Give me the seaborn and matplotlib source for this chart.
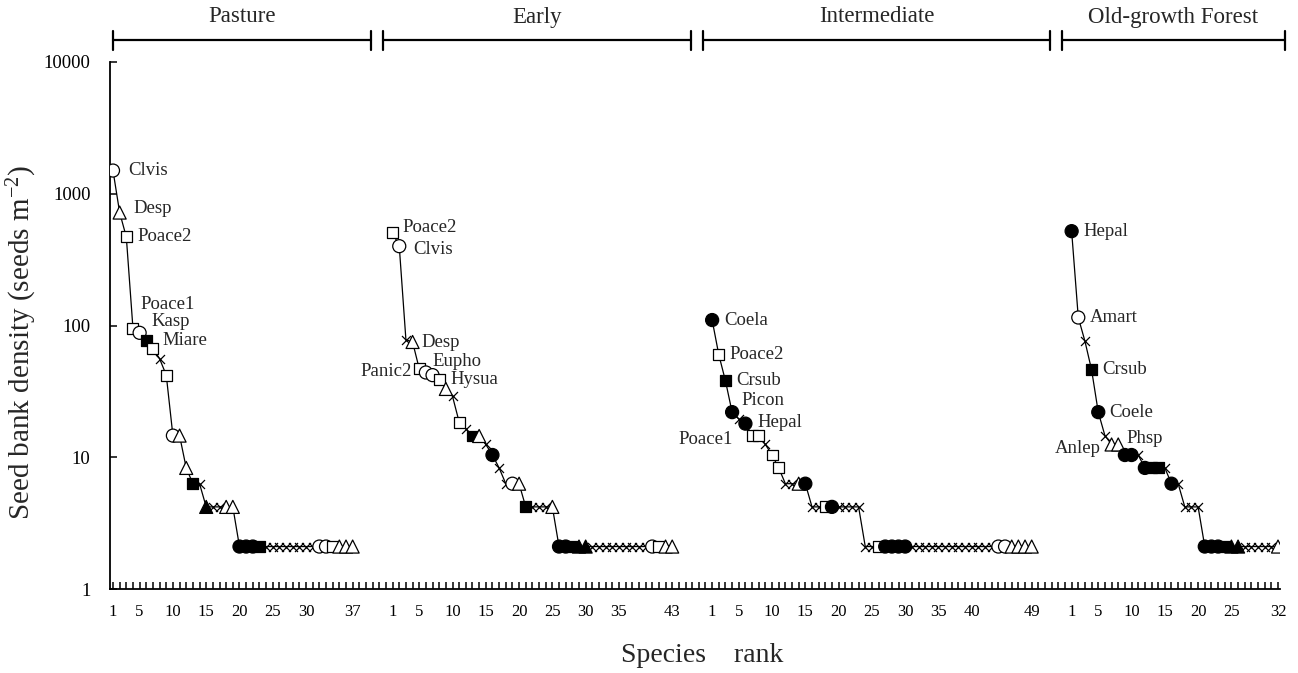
import numpy as np
import pandas as pd
import matplotlib
matplotlib.use("Agg")
import matplotlib.pyplot as plt
from matplotlib.ticker import LogLocator, NullFormatter, FixedLocator, FixedFormatter
import seaborn as sns

# ---------------------------------------------------------------- data
# Seed bank density (seeds m^-2) of each species, ranked within each stage.
# Marker codes: co/cf = open/filled circle, so/sf = square, to/tf = triangle, x = cross
stages = ["Pasture", "Early", "Intermediate", "Old-growth Forest"]

pasture_density = [1500, 720, 470, 95, 88, 77, 67, 56, 42, 14.6, 14.6, 8.3, 6.3, 6.3,
                   4.2, 4.2, 4.2, 4.2, 4.2, 2.1, 2.1, 2.1, 2.1, 2.1, 2.1, 2.1, 2.1,
                   2.1, 2.1, 2.1, 2.1, 2.1, 2.1, 2.1, 2.1, 2.1, 2.1]
pasture_marker = ["co", "to", "so", "so", "co", "sf", "so", "x", "so", "co", "to", "to",
                  "sf", "x", "tf", "x", "x", "to", "to", "cf", "cf", "cf", "sf",
                  "x", "x", "x", "x", "x", "x", "x", "x", "co", "co", "so", "to", "to", "to"]
pasture_names = {1: "Clvis", 2: "Desp", 3: "Poace2", 4: "Poace1", 5: "Kasp", 6: "Miare"}

early_density = [507, 400, 78, 75, 47, 44, 42, 39, 33, 29, 18.5, 16.5, 14.5, 14.5, 12.5,
                 10.4, 8.3, 6.3, 6.3, 6.3, 4.2, 4.2, 4.2, 4.2, 4.2, 2.1, 2.1, 2.1, 2.1,
                 2.1, 2.1, 2.1, 2.1, 2.1, 2.1, 2.1, 2.1, 2.1, 2.1, 2.1, 2.1, 2.1, 2.1]
early_marker = ["so", "co", "x", "to", "so", "co", "co", "so", "to", "x", "so", "x", "sf",
                "to", "x", "cf", "x", "x", "co", "to", "sf", "x", "x", "x", "to", "cf",
                "cf", "sf", "tf", "tf", "x", "x", "x", "x", "x", "x", "x", "x", "x",
                "co", "so", "to", "to"]
early_names = {1: "Poace2", 2: "Clvis", 4: "Desp", 5: "Panic2", 7: "Eupho", 8: "Hysua"}

inter_density = [110, 60, 38, 22, 19.5, 18, 14.6, 14.6, 12.5, 10.4, 8.3, 6.3, 6.3, 6.3,
                 6.3, 4.2, 4.2, 4.2, 4.2, 4.2, 4.2, 4.2, 4.2, 2.1, 2.1, 2.1, 2.1, 2.1,
                 2.1, 2.1, 2.1, 2.1, 2.1, 2.1, 2.1, 2.1, 2.1, 2.1, 2.1, 2.1, 2.1, 2.1,
                 2.1, 2.1, 2.1, 2.1, 2.1, 2.1, 2.1]
inter_marker = ["cf", "so", "sf", "cf", "x", "cf", "so", "so", "x", "so", "so", "x", "x",
                "to", "cf", "x", "x", "so", "cf", "x", "x", "x", "x", "x", "x", "so",
                "cf", "cf", "cf", "cf", "x", "x", "x", "x", "x", "x", "x", "x", "x",
                "x", "x", "x", "x", "co", "co", "to", "to", "to", "to"]
inter_names = {1: "Coela", 2: "Poace2", 3: "Crsub", 4: "Picon", 6: "Hepal", 7: "Poace1"}

old_density = [520, 115, 76, 46, 22, 14.6, 12.5, 12.5, 10.4, 10.4, 10.4, 8.3, 8.3, 8.3,
               8.3, 6.3, 6.3, 4.2, 4.2, 4.2, 2.1, 2.1, 2.1, 2.1, 2.1, 2.1, 2.1, 2.1,
               2.1, 2.1, 2.1, 2.1]
old_marker = ["cf", "co", "x", "sf", "cf", "x", "to", "to", "cf", "cf", "x", "cf", "sf",
              "sf", "x", "cf", "x", "x", "x", "x", "cf", "cf", "cf", "sf", "tf", "tf",
              "x", "x", "x", "x", "x", "to"]
old_names = {1: "Hepal", 2: "Amart", 4: "Crsub", 5: "Coele", 7: "Anlep", 8: "Phsp"}

rank_ticks = [[1, 5, 10, 15, 20, 25, 30, 37],
              [1, 5, 10, 15, 20, 25, 30, 35, 43],
              [1, 5, 10, 15, 20, 25, 30, 35, 40, 49],
              [1, 5, 10, 15, 20, 25, 32]]

densities = [pasture_density, early_density, inter_density, old_density]
markers = [pasture_marker, early_marker, inter_marker, old_marker]
names = [pasture_names, early_names, inter_names, old_names]

# ---------------------------------------------------------------- layout
GAP = 5          # empty rank slots between stages
X_MAX = 176.3    # right end of the rank axis
# label offsets in pixels (dx, dy up) and alignment, per stage and rank
label_style = [
    {1: (15, 0, "left"), 2: (14, 4, "left"), 3: (11, 0, "left"), 4: (7, 24, "left"),
     5: (12, 11, "left"), 6: (16, 0, "left")},
    {1: (10, 5, "left"), 2: (14, -3, "left"), 4: (9, -1, "left"), 5: (-7, -3, "right"),
     7: (0, 14, "left"), 8: (11, 0, "left")},
    {1: (12, 0, "left"), 2: (11, 0, "left"), 3: (11, 0, "left"), 4: (9, 12, "left"),
     6: (12, 1, "left"), 7: (-19, -4, "right")},
    {1: (12, 0, "left"), 2: (12, 0, "left"), 4: (11, 0, "left"), 5: (11, 0, "left"),
     7: (-11, -4, "right"), 8: (8, 6, "left")},
]

serif = ["Liberation Serif", "DejaVu Serif"]
sns.set_style("white")
plt.rcParams["font.family"] = serif
plt.rcParams["mathtext.fontset"] = "custom"
plt.rcParams["mathtext.rm"] = "Liberation Serif"
plt.rcParams["mathtext.it"] = "Liberation Serif:italic"
plt.rcParams["mathtext.bf"] = "Liberation Serif:bold"

# ---------------------------------------------------------------- table
rows = []
starts = []
offset = 0
for s, (dens, mk) in enumerate(zip(densities, markers)):
    starts.append(offset + 1)
    for r, (d, m) in enumerate(zip(dens, mk), start=1):
        shape = {"c": "circle", "s": "square", "t": "triangle", "x": "cross"}[m[0]]
        fill = "solid" if m.endswith("f") else "open"
        rows.append(dict(stage=stages[s], rank=r, pos=offset + r, density=d,
                         shape=shape, fill=fill))
    offset += len(dens) + GAP
df = pd.DataFrame(rows)

W, H = 1298, 673
fig = plt.figure(figsize=(W / 100, H / 100), dpi=100)
ax = fig.add_axes([110 / W, (H - 589) / H, 1170 / W, (589 - 62) / H])

sns.lineplot(data=df, x="pos", y="density", units="stage", estimator=None,
             color="black", linewidth=0.9, ax=ax, zorder=2)

crosses = df[df["shape"] == "cross"]
sns.scatterplot(data=crosses, x="pos", y="density", marker="x", color="black",
                s=42, linewidth=0.9, ax=ax, zorder=3, legend=False)

shapes = df[df["shape"] != "cross"]
sns.scatterplot(data=shapes, x="pos", y="density", hue="fill", style="shape",
                size="shape",
                palette={"open": "white", "solid": "black"},
                markers={"circle": "o", "square": "s", "triangle": "^"},
                sizes={"circle": 88, "square": 62, "triangle": 88},
                edgecolor="black", linewidth=0.9, ax=ax, zorder=4, legend=False)

# species labels
for s in range(len(stages)):
    for r, name in names[s].items():
        row = df[(df["stage"] == stages[s]) & (df["rank"] == r)].iloc[0]
        dx, dy, ha = label_style[s][r]
        ax.annotate(name, xy=(row["pos"], row["density"]), xytext=(dx, dy),
                    textcoords="offset pixels", ha=ha, va="center",
                    fontsize=13.5, zorder=5)

# axes
ax.set_yscale("log")
ax.set_ylim(1, 10000)
ax.set_xlim(0.55, X_MAX)
ax.yaxis.set_major_locator(FixedLocator([1, 10, 100, 1000, 10000]))
ax.yaxis.set_major_formatter(FixedFormatter(["1", "10", "100", "1000", "10000"]))
ax.yaxis.set_minor_locator(LogLocator(base=10, subs=np.arange(2, 10)))
ax.yaxis.set_minor_formatter(NullFormatter())

xt_pos, xt_lab = [], []
for s, ticks in enumerate(rank_ticks):
    for t in ticks:
        xt_pos.append(starts[s] + t - 1)
        xt_lab.append(str(t))
all_pos = np.arange(1, int(df["pos"].max()) + 1)
ax.set_xticks(all_pos)
lab_map = dict(zip(xt_pos, xt_lab))
ax.set_xticklabels([lab_map.get(p, "") for p in all_pos])

ax.tick_params(axis="x", direction="in", length=5, width=1.1, pad=11,
               labelsize=12, colors="black")
ax.tick_params(axis="y", which="major", direction="in", length=5, width=1.1,
               pad=14, labelsize=13.5, colors="black")
ax.tick_params(axis="y", which="minor", direction="in", length=3.5, width=1.0)
ax.tick_params(axis="both", bottom=True, left=True)

for side in ["top", "right"]:
    ax.spines[side].set_visible(False)
for side in ["left", "bottom"]:
    ax.spines[side].set_color("black")
    ax.spines[side].set_linewidth(1.3)

ax.set_xlabel("")
ax.set_ylabel("")
fig.text(22 / W, 1 - 342 / H, r"Seed bank density (seeds m$^{-2}$)", rotation=90,
         ha="center", va="center", fontsize=21)
fig.text(702 / W, 1 - 655 / H, "Species    rank", ha="center", va="center",
         fontsize=20)

# stage brackets above the plot
trans = ax.get_xaxis_transform()
for s, stage in enumerate(stages):
    first = starts[s]
    last = starts[s] + len(densities[s]) - 1
    x0 = max(first - 1.4, 1)
    x1 = min(last + 2.8, X_MAX + 0.7)
    yb = 1 + 22 / 527
    cap = 9.5 / 527
    ax.plot([x0, x1], [yb, yb], transform=trans, color="black", lw=1.6, clip_on=False)
    for xc in (x0, x1):
        ax.plot([xc, xc], [yb - cap, yb + cap], transform=trans, color="black",
                lw=1.6, clip_on=False)
    ax.text((x0 + x1) / 2, 1 + 45 / 527, stage, transform=trans, ha="center",
            va="center", fontsize=16.5)

fig.savefig("out.png", dpi=100)
